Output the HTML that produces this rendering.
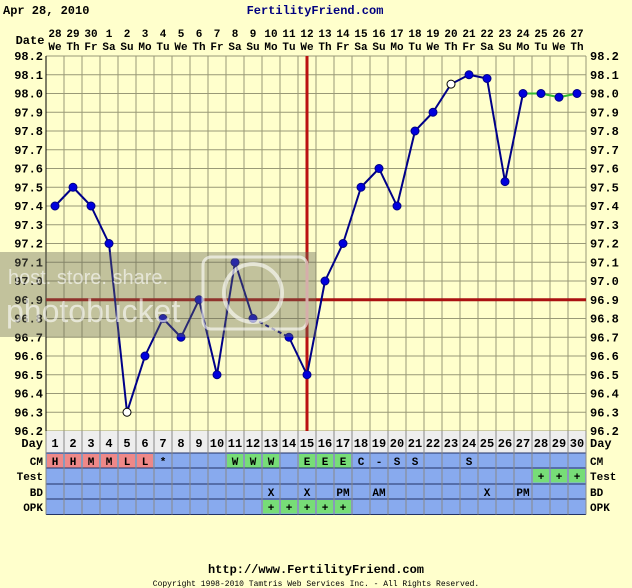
<!DOCTYPE html>
<html><head><meta charset="utf-8"><style>
body{margin:0;background:#ffffcc;}
svg{display:block;font-family:"Liberation Mono","DejaVu Sans Mono",monospace;font-weight:bold;}
</style></head><body>
<svg id="c" width="632" height="588" xmlns="http://www.w3.org/2000/svg">
<rect width="632" height="588" fill="#ffffcc"/>
<text x="3" y="14" font-size="12" fill="#000">Apr 28, 2010</text>
<text x="315" y="14" font-size="12" fill="#000080" text-anchor="middle">FertilityFriend.com</text>
<text x="30" y="44" font-size="12" text-anchor="middle">Date</text>
<g id="g"></g>
<text x="316" y="573" font-size="12" text-anchor="middle">http://www.FertilityFriend.com</text>
<text x="316" y="586" font-size="8" font-weight="normal" text-anchor="middle">Copyright 1998-2010 Tamtris Web Services Inc. - All Rights Reserved.</text>
</svg>
<script>
const dates=["28","29","30","1","2","3","4","5","6","7","8","9","10","11","12","13","14","15","16","17","18","19","20","21","22","23","24","25","26","27"];
const weekdays=["We","Th","Fr","Sa","Su","Mo","Tu","We","Th","Fr","Sa","Su","Mo","Tu","We","Th","Fr","Sa","Su","Mo","Tu","We","Th","Fr","Sa","Su","Mo","Tu","We","Th"];
const temps=[97.4,97.5,97.4,97.2,96.3,96.6,96.8,96.7,96.9,96.5,97.1,96.8,null,96.7,96.5,97.0,97.2,97.5,97.6,97.4,97.8,97.9,98.05,98.1,98.08,97.53,98.0,98.0,97.98,98.0];
const openDays=[5,23];
const cm=["H","H","M","M","L","L","*","","","","W","W","W","","E","E","E","C","-","S","S","","","S","","","","","",""];
const test=["","","","","","","","","","","","","","","","","","","","","","","","","","","","+","+","+"];
const bd=["","","","","","","","","","","","","X","","X","","PM","","AM","","","","","","X","","PM","","",""];
const opk=["","","","","","","","","","","","","+","+","+","+","+","","","","","","","","","","","","",""];
const yTicks=[98.2,98.1,98.0,97.9,97.8,97.7,97.6,97.5,97.4,97.3,97.2,97.1,97.0,96.9,96.8,96.7,96.6,96.5,96.4,96.3,96.2];
const coverline=96.9, ovDay=15;
const L=46,W=18,T=56,B=431,vmax=98.2,vmin=96.2;
const X=d=>L+W*(d-0.5), Y=v=>T+(vmax-v)*(B-T)/(vmax-vmin);
const g=document.getElementById('g');const NS="http://www.w3.org/2000/svg";
function el(t,a,txt){const e=document.createElementNS(NS,t);for(const k in a)e.setAttribute(k,a[k]);if(txt!==undefined)e.textContent=txt;g.appendChild(e);return e;}
const n=dates.length,R=L+W*n;
dates.forEach((d,i)=>{let t=el('text',{x:X(i+1),y:37,'font-size':11,'text-anchor':'middle'},d);


let w=el('text',{x:X(i+1),y:50,'font-size':11,'text-anchor':'middle'},weekdays[i]);

});
for(let i=0;i<=n;i++){let l=el('line',{x1:L+W*i,y1:T,x2:L+W*i,y2:B,stroke:'#999977','stroke-width':1});

}
yTicks.forEach(v=>{let l=el('line',{x1:L,y1:Y(v),x2:R,y2:Y(v),stroke:'#999977','stroke-width':1});


let a=el('text',{x:43,y:Y(v)+4,'font-size':12,'text-anchor':'end'},v.toFixed(1));


let b=el('text',{x:590,y:Y(v)+4,'font-size':12},v.toFixed(1));

});
el('line',{x1:L,y1:T,x2:L,y2:B,stroke:'#000'});
let cv=el('line',{x1:L,y1:Y(coverline),x2:R,y2:Y(coverline),stroke:'#aa1111','stroke-width':3});


let ov=el('line',{x1:X(ovDay),y1:T,x2:X(ovDay),y2:B,stroke:'#bb1111','stroke-width':3});


for(let i=0;i<n-1;i++){if(temps[i]==null)continue;let j=i+1,dash=false;if(temps[j]==null){j=i+2;dash=true;}
if(j>=n)continue;const green=i>=26;
let l=el('line',{x1:X(i+1),y1:Y(temps[i]),x2:X(j+1),y2:Y(temps[j]),stroke:green?'#33bb33':'#000088','stroke-width':2,'stroke-dasharray':dash?'4,3':'none'});

}
temps.forEach((v,i)=>{if(v==null)return;const o=openDays.includes(i+1);
let c=el('circle',{cx:X(i+1),cy:Y(v),r:4,fill:o?'#fff':'#0000dd',stroke:o?'#000':'#000088','stroke-width':1});

});
let wm=el('rect',{x:0,y:252,width:316,height:85,fill:'#666655',opacity:0.4});


let wt=el('text',{x:8,y:284,'font-size':20,'font-weight':'normal',fill:'#ffffff',opacity:0.6,'font-family':'Liberation Sans, sans-serif'},'host. store. share.');


let wt2=el('text',{x:6,y:322,'font-size':32,'font-weight':'normal',fill:'#ffffff',opacity:0.6,'font-family':'Liberation Sans, sans-serif'},'photobucket');


let wr=el('rect',{x:203,y:257,width:104,height:72,rx:8,fill:'none',stroke:'#ffffff','stroke-width':3,opacity:0.6});


el('circle',{cx:253,cy:293,r:29,fill:'none',stroke:'#ffffff','stroke-width':4,opacity:0.6});
el('rect',{x:L,y:B,width:W*n,height:22,fill:'#eeeeee'});
const rows=[["CM",cm,453],["Test",test,468],["BD",bd,484],["OPK",opk,499]];
el('text',{x:43,y:447,'font-size':12,'text-anchor':'end'},'Day');el('text',{x:590,y:447,'font-size':12},'Day');
for(let i=0;i<n;i++){let t=el('text',{x:X(i+1),y:447,'font-size':12,'text-anchor':'middle'},String(i+1));

}
rows.forEach(([name,arr,y])=>{const h=15.5;
el('rect',{x:L,y:y,width:W*n,height:h,fill:'#88aaee'});
let a=el('text',{x:43,y:y+12,'font-size':11,'text-anchor':'end'},name);


let b=el('text',{x:590,y:y+12,'font-size':11},name);


arr.forEach((v,i)=>{if(!v)return;let fill=null;
if(name==="CM"){if("HML".includes(v))fill='#ee8888';else if("WE".includes(v))fill='#77dd77';}
if((name==="Test"||name==="OPK")&&v==="+")fill='#77dd77';
if(fill)el('rect',{x:L+W*i+1,y:y+1,width:W-2,height:h-2,fill:fill});
let t=el('text',{x:X(i+1),y:y+12,'font-size':11,'text-anchor':'middle'},v);

});
el('line',{x1:L,y1:y,x2:R,y2:y,stroke:'#223366'});});
el('line',{x1:L,y1:514.5,x2:R,y2:514.5,stroke:'#223366'});
for(let i=0;i<=n;i++)el('line',{x1:L+W*i,y1:B,x2:L+W*i,y2:514.5,stroke:'#888888'});
</script>
</body></html>
